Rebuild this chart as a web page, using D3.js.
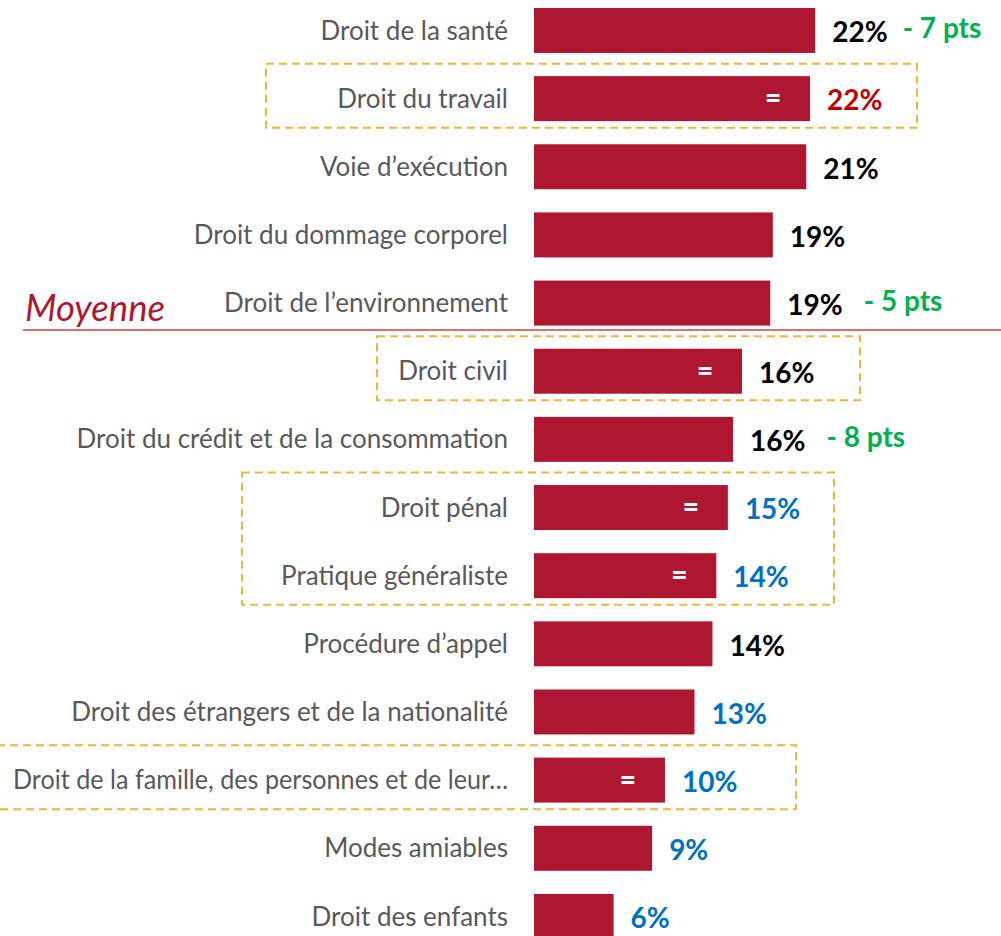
<!DOCTYPE html>
<html>
<head>
<meta charset="utf-8">
<script src="https://cdn.jsdelivr.net/npm/d3@7"></script>
<style>
  body { margin: 0; background: #fff; }
  svg { display: block; font-family: Lato, "Open Sans", sans-serif; }
</style>
</head>
<body>
<script>
// data
const categories = [
  "Droit de la santé", "Droit du travail", "Voie d’exécution",
  "Droit du dommage corporel", "Droit de l’environnement", "Droit civil",
  "Droit du crédit et de la consommation", "Droit pénal", "Pratique généraliste",
  "Procédure d’appel", "Droit des étrangers et de la nationalité",
  "Droit de la famille, des personnes et de leur…", "Modes amiables", "Droit des enfants"
];
const values = [21.9, 21.5, 21.2, 18.6, 18.4, 16.2, 15.5, 15.1, 14.2, 13.9, 12.5, 10.2, 9.2, 6.2];
const valueLabels = ["22%", "22%", "21%", "19%", "19%", "16%", "16%", "15%", "14%", "14%", "13%", "10%", "9%", "6%"];
// k = black, r = red, b = blue
const labelTone = ["k", "r", "k", "k", "k", "k", "k", "b", "b", "k", "b", "b", "b", "b"];
const evolutions = ["- 7 pts", "", "", "", "- 5 pts", "", "- 8 pts", "", "", "", "", "", "", ""];
const equalSign = [false, true, false, false, false, true, false, true, true, false, false, true, false, false];
const groups = [
  ["Droit du travail", "Droit du travail"],
  ["Droit civil", "Droit civil"],
  ["Droit pénal", "Pratique généraliste"],
  ["Droit de la famille, des personnes et de leur…", "Droit de la famille, des personnes et de leur…"]
];
const averageAfter = "Droit de l’environnement";

const w = 1001, h = 936;
const toneColor = { k: "#000000", r: "#C00000", b: "#0070C0" };
// horizontal extents of the dashed frames (last one runs off the left edge)
const groupX = [[265, 917], [376, 860], [241, 834], [-4, 796]];

const svg = d3.select("body").append("svg")
  .attr("width", w).attr("height", h);

const x = d3.scaleLinear().domain([0, 25]).range([534, 534 + 321]);
const y = d3.scaleBand().domain(categories)
  .range([-3.6, -3.6 + 68.15 * categories.length])
  .paddingInner(0.34).paddingOuter(0.17);
const bw = y.bandwidth();

// dashed frames
svg.selectAll("rect.frame")
  .data(groups)
  .enter()
  .append("rect")
  .attr("class", "frame")
  .attr("x", (d, i) => groupX[i][0] + 1)
  .attr("width", (d, i) => groupX[i][1] - groupX[i][0] - 1)
  .attr("y", d => y(d[0]) + bw / 2 - 35)
  .attr("height", d => y(d[1]) - y(d[0]) + 64)
  .attr("fill", "none")
  .attr("stroke", "#E8B83E")
  .attr("stroke-width", 2)
  .attr("stroke-dasharray", "8,5");

// average line
const avgY = y(averageAfter) + bw + 4.5;
svg.append("line")
  .attr("x1", 23).attr("x2", w)
  .attr("y1", avgY).attr("y2", avgY)
  .attr("stroke", "#CC3F45")
  .attr("stroke-width", 1.5);
svg.append("text")
  .attr("x", 25).attr("y", avgY - 9)
  .attr("fill", "#B0172F")
  .style("font-size", "36.5px")
  .style("font-style", "italic")
  .text("Moyenne");

// bars
svg.selectAll("rect.bar")
  .data(values)
  .enter()
  .append("rect")
  .attr("class", "bar")
  .attr("x", x(0))
  .attr("y", (d, i) => y(categories[i]))
  .attr("width", d => x(d) - x(0))
  .attr("height", bw)
  .attr("fill", "#AF1730");

// category labels
svg.selectAll("text.cat")
  .data(categories)
  .enter()
  .append("text")
  .attr("class", "cat")
  .attr("x", 508)
  .attr("y", d => y(d) + bw / 2)
  .attr("dy", "0.35em")
  .attr("text-anchor", "end")
  .attr("fill", "#595959")
  .style("font-size", "26px")
  .text(d => d)
  .each(function () {
    // keep the long truncated label inside the page
    if (this.getComputedTextLength() > 495) {
      d3.select(this).attr("textLength", 495).attr("lengthAdjust", "spacingAndGlyphs");
    }
  });

// "=" inside bars
svg.selectAll("text.eq")
  .data(values.map((v, i) => ({ v, i })).filter(d => equalSign[d.i]))
  .enter()
  .append("text")
  .attr("class", "eq")
  .attr("x", d => x(d.v) - 37)
  .attr("y", d => y(categories[d.i]) + bw / 2)
  .attr("dy", "0.35em")
  .attr("text-anchor", "middle")
  .attr("fill", "#ffffff")
  .style("font-size", "28px")
  .style("font-weight", "900")
  .text("=");

// value labels
const vals = svg.selectAll("text.val")
  .data(values)
  .enter()
  .append("text")
  .attr("class", "val")
  .attr("x", d => x(d) + 17)
  .attr("y", (d, i) => y(categories[i]) + bw / 2 + 2)
  .attr("dy", "0.35em")
  .attr("fill", (d, i) => toneColor[labelTone[i]])
  .style("font-size", "28px")
  .style("font-weight", "bold")
  .text((d, i) => valueLabels[i]);

// evolution vs previous
vals.each(function (d, i) {
  if (!evolutions[i]) return;
  const end = x(d) + 17 + this.getComputedTextLength();
  svg.append("text")
    .attr("x", end + (i === 0 ? 15 : 21))
    .attr("y", y(categories[i]) + bw / 2 - 2)
    .attr("dy", "0.35em")
    .attr("fill", "#00B050")
    .style("font-size", "28px")
    .style("font-weight", "bold")
    .text(evolutions[i]);
});
</script>
</body>
</html>
